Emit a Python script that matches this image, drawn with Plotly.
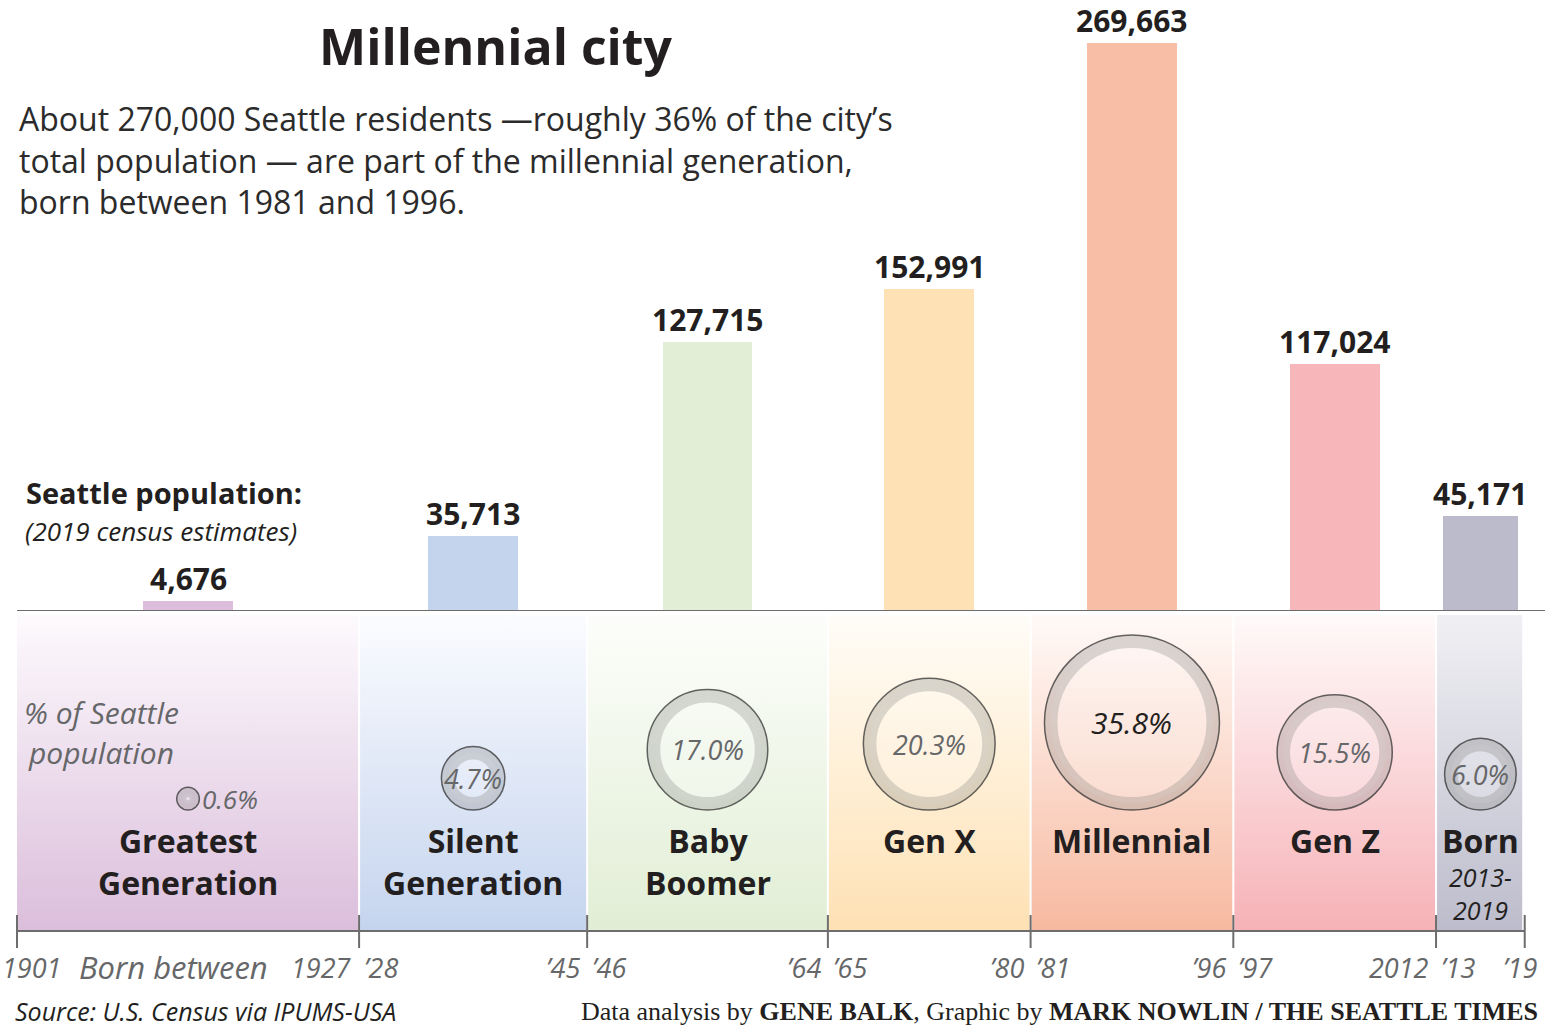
import math
import plotly.graph_objects as go

# ---------------- data ----------------
generations = ["Greatest<br>Generation", "Silent<br>Generation", "Baby<br>Boomer",
               "Gen X", "Millennial", "Gen Z", "Born"]
start_years = [1901, 1928, 1946, 1965, 1981, 1997, 2013]
end_years = [1927, 1945, 1964, 1980, 1996, 2012, 2019]
population = [4676, 35713, 127715, 152991, 269663, 117024, 45171]
pct_of_pop = [0.6, 4.7, 17.0, 20.3, 35.8, 15.5, 6.0]
start_labels = ["1901", "’28", "’46", "’65", "’81", "’97", "’13"]
end_labels = ["1927", "’45", "’64", "’80", "’96", "2012", "’19"]

# ---------------- styles ----------------
bar_colors = ["#dcbedc", "#c4d4ec", "#e2eed6", "#fee2b6", "#f8bea6", "#f6b6ba", "#bbbbcb"]
band_colors = ["#dbbedb", "#c5d4ee", "#e1eed5", "#fee1b4", "#f7b9a0", "#f6b2b7", "#bcbccc"]
band_tops = ["#fdfafd", "#fbfcff", "#fdfefb", "#fffdf8", "#fffaf8", "#fffafa", "#f0f0f4"]
bar_widths = [7.1, 7.1, 7.1, 7.1, 7.1, 7.1, 5.9]

W, H = 1545, 1030
PX_PER_YEAR = 12.67
X0_PX, X0_YEAR = 17, 1901
x_range = [X0_YEAR - X0_PX / PX_PER_YEAR, X0_YEAR + (W - X0_PX) / PX_PER_YEAR]

FONT = "Open Sans"
DARK = "#231f20"
GRAY = "#666769"


def Y(py):
    """pixel-from-top -> y2 coordinate"""
    return H - py


def PX(px):
    return px / W


def PY(py):
    return 1 - py / H


def note(px, py, text, size, color=DARK, family=FONT, xanchor="left"):
    return dict(x=PX(px), y=PY(py), xref="paper", yref="paper", text=text,
                showarrow=False, xanchor=xanchor, yanchor="middle", align=xanchor,
                font=dict(family=family, size=size, color=color))


mid = [(s + e + 1) / 2 for s, e in zip(start_years, end_years)]
boundaries = start_years + [end_years[-1] + 1]

fig = go.Figure()

# background bands with vertical gradient
BAND_TOP, BAND_BOT = 615, 931
for i in range(len(generations)):
    x0 = start_years[i] + (0.08 if i > 0 else 0)
    x1 = end_years[i] + 1 - (0.08 if i < len(generations) - 1 else 0.2)
    fig.add_trace(go.Scatter(
        x=[x0, x1, x1, x0, x0],
        y=[Y(BAND_BOT), Y(BAND_BOT), Y(BAND_TOP), Y(BAND_TOP), Y(BAND_BOT)],
        xaxis="x", yaxis="y2", mode="lines", line=dict(width=0),
        fill="toself",
        fillgradient=dict(type="vertical",
                          colorscale=[[0, band_colors[i]], [1, band_tops[i]]],
                          start=Y(BAND_BOT), stop=Y(BAND_TOP)),
        hoverinfo="skip", showlegend=False))

# circles (area proportional to share)
K = 29.25
RING = 13
CIRCLE_BOTTOM = 810
diam = [K * math.sqrt(p) for p in pct_of_pop]
cy = [Y(CIRCLE_BOTTOM - d / 2) for d in diam]
ring_size = [max(d - RING, 1) for d in diam]
fig.add_trace(go.Scatter(
    x=mid, y=cy, xaxis="x", yaxis="y2", mode="markers",
    marker=dict(size=ring_size, color="rgba(255,255,255,0.3)",
                line=dict(color="rgba(140,140,138,0.45)", width=RING)),
    hoverinfo="skip", showlegend=False))
fig.add_trace(go.Scatter(
    x=mid, y=cy, xaxis="x", yaxis="y2", mode="markers",
    marker=dict(size=diam, color="rgba(0,0,0,0)", line=dict(color="#2a2a2a", width=1.5)),
    hoverinfo="skip", showlegend=False))

# bars
fig.add_trace(go.Bar(
    x=mid, y=population, width=bar_widths, marker=dict(color=bar_colors, line=dict(width=0)),
    xaxis="x", yaxis="y", hoverinfo="skip", showlegend=False))

annotations = []
shapes = []

# bar value labels
for x, v in zip(mid, population):
    annotations.append(dict(x=x, y=v, xref="x", yref="y", text=f"<b>{v:,}</b>",
                            showarrow=False, xanchor="center", yanchor="bottom", yshift=0,
                            font=dict(family=FONT, size=30, color=DARK)))

# baseline
shapes.append(dict(type="line", xref="paper", yref="y", x0=PX(17), x1=1, y0=0, y1=0,
                   line=dict(color="#6d6d6d", width=2), layer="above"))

# percentage labels
imax = pct_of_pop.index(max(pct_of_pop))
for i, (x, y, p, d) in enumerate(zip(mid, cy, pct_of_pop, diam)):
    if d < 40:
        annotations.append(dict(x=x, y=y, xref="x", yref="y2", text=f"<i>{p:.1f}%</i>",
                                showarrow=False, xanchor="left", yanchor="middle", xshift=d / 2 + 1,
                                font=dict(family=FONT, size=26, color=GRAY)))
    else:
        big = i == imax
        annotations.append(dict(x=x, y=y, xref="x", yref="y2", text=f"<i>{p:.1f}%</i>",
                                showarrow=False, xanchor="center", yanchor="middle",
                                font=dict(family=FONT, size=30 if big else 27,
                                          color=DARK if big else GRAY)))

# generation labels
for i, (x, g) in enumerate(zip(mid, generations)):
    annotations.append(dict(x=x, y=Y(817), xref="x", yref="y2", text=f"<b>{g}</b>",
                            showarrow=False, xanchor="center", yanchor="top",
                            font=dict(family=FONT, size=32, color=DARK)))
annotations.append(dict(x=mid[-1], y=Y(858), xref="x", yref="y2",
                        text=f"<i>{start_years[-1]}-<br>{end_years[-1]}</i>",
                        showarrow=False, xanchor="center", yanchor="top", align="center",
                        font=dict(family=FONT, size=25, color=DARK)))

# timeline
shapes.append(dict(type="line", xref="x", yref="paper", x0=boundaries[0], x1=boundaries[-1],
                   y0=PY(931), y1=PY(931), line=dict(color="#6d6d6d", width=2)))
for b in boundaries:
    shapes.append(dict(type="line", xref="x", yref="paper", x0=b, x1=b,
                       y0=PY(915), y1=PY(948), line=dict(color="#6d6d6d", width=2)))

TICK_SIZE = 27
tick_font = dict(family=FONT, size=TICK_SIZE, color=GRAY)
for i, b in enumerate(boundaries):
    if i > 0:
        lab = end_labels[i - 1]
        shift = 14 if i == len(boundaries) - 1 else -5
        annotations.append(dict(x=b, y=PY(967), xref="x", yref="paper", text=f"<i>{lab}</i>",
                                showarrow=False, xanchor="right", yanchor="middle",
                                xshift=shift, font=tick_font))
    if i < len(start_labels):
        lab = start_labels[i]
        if i == 0:
            annotations.append(note(0, 967, f"<i>{lab}</i>", TICK_SIZE, GRAY))
        else:
            annotations.append(dict(x=b, y=PY(967), xref="x", yref="paper", text=f"<i>{lab}</i>",
                                    showarrow=False, xanchor="left", yanchor="middle",
                                    xshift=3, font=tick_font))
annotations.append(note(173, 967, "<i>Born between</i>", 31, GRAY, xanchor="center"))

# titles and notes
annotations += [
    note(496, 46, "<b>Millennial city</b>", 50, xanchor="center"),
    dict(x=PX(17), y=PY(95), xref="paper", yref="paper", yanchor="top", xanchor="left", align="left",
         text="About 270,000 Seattle residents —roughly 36% of the city’s<br>"
              "total population — are part of the millennial generation,<br>"
              "born between 1981 and 1996.",
         showarrow=False, font=dict(family=FONT, size=32, color="#2b2b2b")),
    note(24, 493, "<b>Seattle population:</b>", 29),
    note(23, 531, "<i>(2019 census estimates)</i>", 26),
    note(22, 712, "<i>% of Seattle</i>", 30, GRAY),
    note(26, 752, "<i>population</i>", 30, GRAY),
    note(13, 1011, "<i>Source: U.S. Census via IPUMS-USA</i>", 25),
    note(1540, 1011,
         "Data analysis by <b>GENE BALK</b>, Graphic by <b>MARK NOWLIN / THE SEATTLE TIMES</b>",
         26, family="Liberation Serif", xanchor="right"),
]

fig.update_layout(
    width=W, height=H, margin=dict(l=0, r=0, t=0, b=0),
    paper_bgcolor="white", plot_bgcolor="rgba(0,0,0,0)",
    xaxis=dict(range=x_range, domain=[0, 1], visible=False, fixedrange=True, anchor="y"),
    yaxis=dict(range=[0, 280000], domain=[0.4068, 0.9794], visible=False, fixedrange=True),
    yaxis2=dict(range=[0, H], domain=[0, 1], visible=False, fixedrange=True, anchor="x"),
    bargap=0, annotations=annotations, shapes=shapes, showlegend=False,
)

fig.write_html("out.html", config={"displayModeBar": False, "staticPlot": True},
               post_script="document.body.style.margin='0';document.body.style.overflow='hidden';")
